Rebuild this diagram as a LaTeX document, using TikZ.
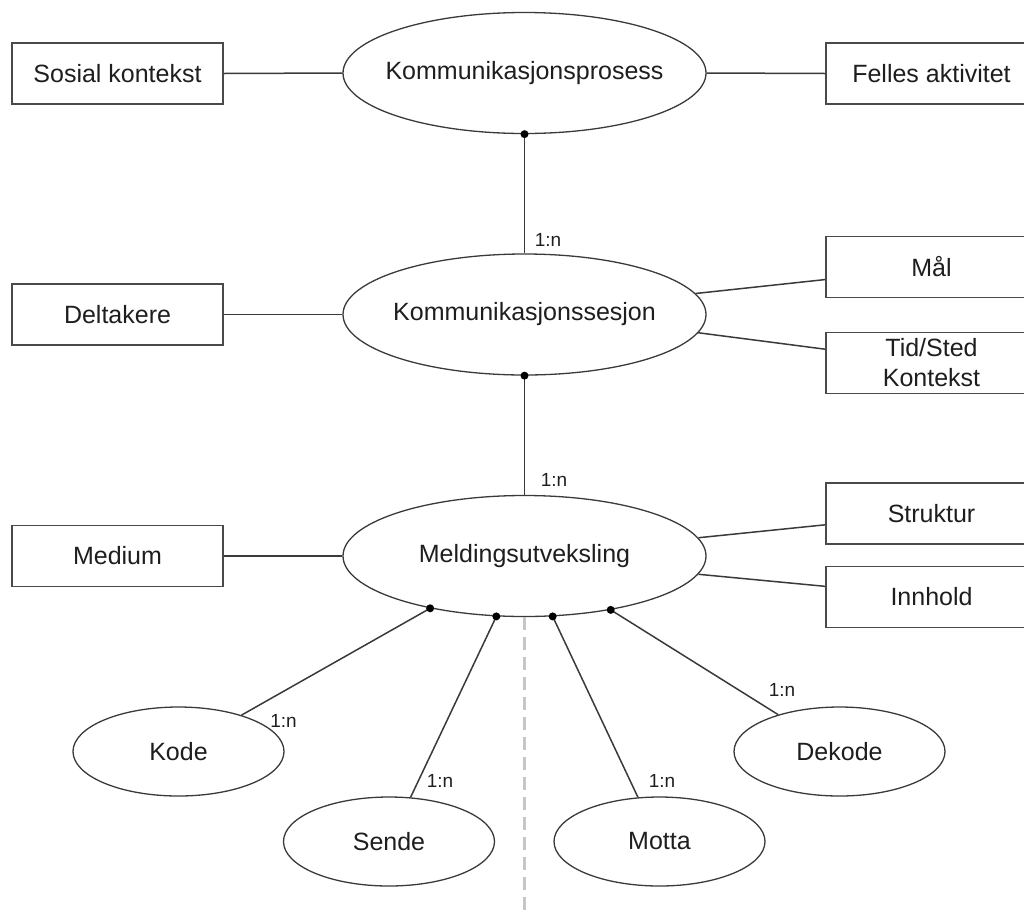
\documentclass[tikz,border=0pt]{standalone}
\usepackage{fontspec}
\setmainfont{Liberation Sans}
\usetikzlibrary{calc,shapes.geometric}

\definecolor{ink}{HTML}{1E1E1E}
\definecolor{edge}{HTML}{3A3A3A}
\definecolor{boxedge}{HTML}{4A4A4A}
\definecolor{divider}{HTML}{C6C6C6}

% zero-width box so the ellipse size is set only by its minimum dimensions
\newcommand{\inell}[1]{\makebox[0pt]{#1}}

\tikzset{
  attr/.style={rectangle, draw=boxedge, line width=1.8pt, fill=white,
    minimum width=211pt, minimum height=61pt, inner sep=0pt,
    font=\fontsize{25}{30}\selectfont, text=ink, align=center},
  ent/.style={ellipse, draw=edge, line width=1.3pt, fill=white,
    minimum width=363pt, minimum height=121pt, inner sep=0pt,
    font=\fontsize{25}{30}\selectfont, text=ink},
  act/.style={ellipse, draw=edge, line width=1.3pt, fill=white,
    minimum width=211pt, minimum height=89pt, inner sep=0pt,
    font=\fontsize{25}{30}\selectfont, text=ink},
  link/.style={draw=edge, line width=1.5pt},
  joint/.style={circle, fill=black, inner sep=0pt, minimum size=8pt},
  card/.style={font=\fontsize{19}{22}\selectfont, text=ink, inner sep=0pt},
  divline/.style={draw=divider, line width=2.6pt, dash pattern=on 13pt off 7pt},
}

\begin{document}
\begin{tikzpicture}[x=1pt,y=-1pt]
\useasboundingbox (0,0) rectangle (1024,911);
\clip (0,0) rectangle (1024,911);

% split line under the message exchange
\coordinate (floor) at (524.5,911);

% main entities
\node[ent] (kp) at (524.5,73)    {\inell{Kommunikasjonsprosess}};
\node[ent] (ks) at (524.5,314.5) {\inell{Kommunikasjonssesjon}};
\node[ent] (mu) at (524.5,556)   {\inell{Meldingsutveksling}};

% attributes
\node[attr] (sos) at (117.5,73.5) {Sosial kontekst};
\node[attr] (fel) at (931.5,73.5) {Felles aktivitet};
\node[attr] (del) at (117.5,314.5) {Deltakere};
\node[attr] (mal) at (931.5,267) {Mål};
\node[attr] (tid) at (931.5,363) {Tid/Sted\\Kontekst};
\node[attr] (med) at (117.5,556) {Medium};
\node[attr] (str) at (931.5,513.5) {Struktur};
\node[attr] (inn) at (931.5,597) {Innhold};

% activities of the message exchange
\node[act] (kode)   at (178.5,751.5) {Kode};
\node[act] (sende)  at (389,841.5)   {Sende};
\node[act] (motta)  at (659.5,841.5) {Motta};
\node[act] (dekode) at (839.5,751.5) {Dekode};

% dashed divider
\draw[divline] (mu.south) -- (floor);

% attribute links
\draw[link] (sos.east) -- (kp.west);
\draw[link] (kp.east) -- (fel.west);
\draw[link] (del.east) -- (ks.west);
\draw[link] (ks.7) -- ($(mal.north west)!0.7!(mal.south west)$);
\draw[link] (ks.354) -- ($(tid.north west)!0.28!(tid.south west)$);
\draw[link] (med.east) -- (mu.west);
\draw[link] (mu.6) -- ($(str.north west)!0.68!(str.south west)$);
\draw[link] (mu.354) -- ($(inn.north west)!0.33!(inn.south west)$);

% one-to-many relations
\draw[link] (kp.south) -- (ks.north);
\draw[link] (ks.south) -- (mu.north);
\draw[link] (mu.209.6) -- (kode.30);
\draw[link] (mu.245.2) -- (sende.64);
\draw[link] (mu.295.6) -- (motta.116);
\draw[link] (mu.328.7) -- (dekode.149);

% joints
\node[joint] at (kp.south) {};
\node[joint] at (ks.south) {};
\node[joint] at (mu.209.6) {};
\node[joint] at (mu.245.2) {};
\node[joint] at (mu.295.6) {};
\node[joint] at (mu.328.7) {};

% cardinalities
\node[card] at (548,240) {1:n};
\node[card] at (554,480) {1:n};
\node[card] at (283.5,721) {1:n};
\node[card] at (440,781) {1:n};
\node[card] at (662,781) {1:n};
\node[card] at (782,690) {1:n};
\end{tikzpicture}
\end{document}
